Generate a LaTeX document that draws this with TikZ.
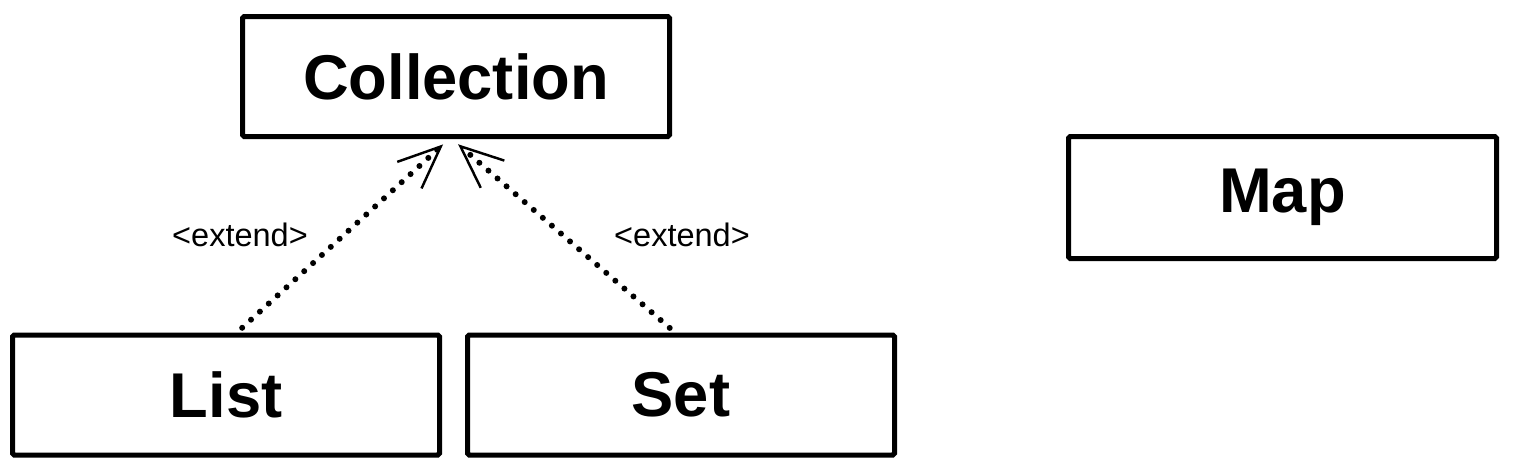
\documentclass[tikz,border=0pt]{standalone}
\usepackage{fontspec}
\setmainfont{Liberation Sans}
\usepackage{tikz}
\usetikzlibrary{positioning,arrows.meta}

\begin{document}
\begin{tikzpicture}[
  classBox/.style={draw, line width=0.1cm, rounded corners=1pt,
               minimum width=8.54cm, minimum height=2.4cm, inner sep=0pt,
               font=\fontsize{36}{40}\selectfont\bfseries},
  lbl/.style={font=\fontsize{18.5}{20}\selectfont},
  ext/.style={line width=0.12cm, line cap=round, dash pattern=on 0pt off 2.4mm,
              -{Straight Barb[length=8.5mm, width=7.2mm, line width=1.4pt]},
              shorten <=1.4mm, shorten >=1.6mm},
]
\useasboundingbox (0,0) rectangle (30.32,9.4);

\node[classBox] (coll) at (9.12,7.87) {Collection};
\node[classBox] (list) at (4.52,1.5) {List};
\node[classBox] (set)  at (13.62,1.5) {Set};
\node[classBox, minimum width=8.56cm, minimum height=2.44cm] (map) at (25.65,5.45) {Map};

\node[lbl] (l1) at (4.8,4.7) {<extend>};
\node[lbl] (l2) at (13.64,4.7) {<extend>};

\draw[ext] ([xshift=2.2mm]list.north) -- ([xshift=-1.4mm]coll.south);
\draw[ext] ([xshift=-1.2mm]set.north) -- ([xshift=-0.8mm]coll.south);
\end{tikzpicture}
\end{document}
